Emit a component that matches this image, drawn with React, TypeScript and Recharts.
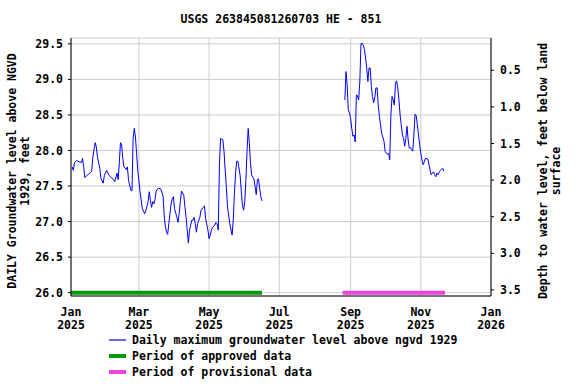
import { ComposedChart, Line, XAxis, YAxis, CartesianGrid, Legend } from 'recharts';

// day of year 2025 (0 = Jan 1) and daily maximum level, ft above NGVD 1929
const DAYS = [
  1, 2, 3, 5, 7, 9, 10, 11, 12, 14, 17, 18, 19, 21, 22, 23, 25, 26, 28, 29,
  31, 33, 35, 37, 38, 40, 41, 42, 43, 44, 45, 46, 48, 49, 50, 52, 53, 54, 55, 56,
  57, 58, 59, 60, 61, 62, 64, 65, 67, 68, 69, 70, 71, 72, 73, 74, 76, 78, 80, 81,
  82, 83, 84, 85, 87, 88, 89, 90, 92, 93, 94, 95, 96, 98, 99, 100, 101, 102, 103, 105,
  106, 107, 108, 109, 110, 112, 113, 115, 116, 117, 119, 120, 121, 122, 123, 125, 126, 127, 128, 129,
  130, 131, 132, 133, 134, 135, 136, 138, 140, 141, 142, 143, 144, 145, 147, 148, 149, 150, 151, 152,
  153, 154, 155, 156, 157, 159, 160, 161, 162, 163, 164, 165, 166,
  200,
  238, 239, 240, 241, 242, 243, 244, 245, 246, 247, 248, 249, 250, 251, 252, 253, 254, 255, 256, 257,
  258, 259, 260, 261, 262, 263, 264, 265, 266, 267, 268, 269, 270, 272, 273, 274, 275, 276, 277, 278,
  279, 280, 281, 282, 283, 284, 285, 286, 287, 288, 289, 290, 291, 292, 293, 294, 295, 296, 297, 298,
  299, 300, 301, 302, 303, 304, 305, 306, 307, 308, 310, 311, 312, 313, 314, 315, 316, 317, 318, 319,
  320, 321, 323, 324,
];
const LEVELS = [
  27.77, 27.72, 27.83, 27.86, 27.84, 27.83, 27.89, 27.77, 27.62, 27.65, 27.69, 27.71, 27.91, 28.11, 28.05, 27.91, 27.75, 27.61, 27.54, 27.65,
  27.72, 27.65, 27.62, 27.59, 27.56, 27.68, 27.59, 27.83, 28.11, 28.08, 27.89, 27.77, 27.73, 27.77, 27.58, 27.44, 27.43, 28.17, 28.31, 28.19,
  27.96, 27.72, 27.58, 27.42, 27.3, 27.18, 27.11, 27.15, 27.28, 27.42, 27.3, 27.2, 27.28, 27.25, 27.31, 27.43, 27.47, 27.46, 27.36, 27.09,
  26.93, 26.85, 26.82, 26.97, 27.25, 27.32, 27.35, 27.18, 27.06, 26.99, 27.11, 27.28, 27.43, 27.37, 27.21, 27.06, 26.88, 26.7, 26.88, 27.02,
  27.02, 27.06, 26.97, 26.85, 26.97, 27.06, 27.16, 27.2, 27.22, 27.04, 26.88, 26.76, 26.81, 26.88, 26.92, 26.95, 26.99, 26.97, 26.88, 27.82,
  28.17, 28.16, 28.15, 27.98, 27.72, 27.49, 27.21, 26.97, 26.81, 27.02, 27.39, 27.68, 27.85, 27.85, 27.65, 27.42, 27.23, 27.16, 27.28, 27.58,
  28.0, 28.31, 28.1, 27.82, 27.65, 27.6, 27.49, 27.38, 27.59, 27.6, 27.46, 27.35, 27.29,
  null,
  28.71, 29.11, 28.92, 28.57, 28.53, 28.45, 28.31, 28.2, 28.22, 28.12, 28.78, 28.77, 28.71, 28.97, 29.5, 29.51, 29.48, 29.42, 29.3, 29.16,
  28.97, 29.16, 29.16, 28.9, 28.76, 28.67, 28.74, 28.88, 28.88, 28.64, 28.48, 28.36, 28.24, 28.13, 27.99, 27.96, 27.95, 27.96, 27.87, 28.5,
  28.76, 28.71, 28.64, 28.95, 28.98, 28.88, 28.71, 28.5, 28.36, 28.22, 28.17, 28.06, 28.17, 28.34, 28.15, 28.03, 28.04, 28.01, 27.99, 28.22,
  28.51, 28.49, 28.36, 28.22, 28.08, 27.96, 27.87, 27.8, 27.84, 27.89, 27.88, 27.81, 27.73, 27.66, 27.68, 27.7, 27.66, 27.63, 27.68, 27.66,
  27.7, 27.72, 27.75, 27.71,
];

const X_TICK_DAYS = [0, 59, 120, 181, 243, 304, 365];
const X_TICK_MONTHS = ['Jan', 'Mar', 'May', 'Jul', 'Sep', 'Nov', 'Jan'];
const X_TICK_YEARS = ['2025', '2025', '2025', '2025', '2025', '2025', '2026'];
const LEVEL_TICKS = [26.0, 26.5, 27.0, 27.5, 28.0, 28.5, 29.0, 29.5];
const DEPTH_TICKS = [0.5, 1.0, 1.5, 2.0, 2.5, 3.0, 3.5];

const APPROVED_DAYS = [0, 166];
const PROVISIONAL_DAYS = [236, 325];
const PERIOD_LEVEL = 26.0;

const TITLE = 'USGS 263845081260703 HE - 851';
const LEFT_TITLE = ['DAILY Groundwater level above NGVD', '1929, feet'];
const RIGHT_TITLE = ['Depth to water level, feet below land', 'surface'];
const LEGEND_LABELS = [
  'Daily maximum groundwater level above ngvd 1929',
  'Period of approved data',
  'Period of provisional data',
];

const FONT = '"DejaVu Sans Mono", monospace';
const FS = 11.5;
const BLUE = '#0000ff';
const GREEN = '#069a06';
const PINK = '#ee44dd';

const levelData = DAYS.map((day, i) => ({ day, level: LEVELS[i] }));
const approvedData = APPROVED_DAYS.map(day => ({ day, level: PERIOD_LEVEL }));
const provisionalData = PROVISIONAL_DAYS.map(day => ({ day, level: PERIOD_LEVEL }));

function MonthTick({ x, y, payload }: any) {
  const i = X_TICK_DAYS.indexOf(payload.value);
  return (
    <text x={x} y={y} textAnchor="middle" fontFamily={FONT} fontSize={FS} fontWeight="bold" fill="#000">
      <tspan x={x} dy={11.5}>{X_TICK_MONTHS[i]}</tspan>
      <tspan x={x} dy={13}>{X_TICK_YEARS[i]}</tspan>
    </text>
  );
}

function AxisTitle({ lines, cx, cy }: { lines: string[]; cx: number; cy: number }) {
  return (
    <text
      x={cx}
      y={cy}
      transform={`rotate(-90 ${cx} ${cy})`}
      textAnchor="middle"
      fontFamily={FONT}
      fontSize={FS}
      fontWeight="bold"
      fill="#000"
    >
      {lines.map((line, i) => (
        <tspan key={i} x={cx} dy={i === 0 ? 0 : 13}>{line}</tspan>
      ))}
    </text>
  );
}

function LegendBox() {
  const rows = [
    { label: LEGEND_LABELS[0], color: BLUE, width: 1.2 },
    { label: LEGEND_LABELS[1], color: GREEN, width: 4 },
    { label: LEGEND_LABELS[2], color: PINK, width: 4 },
  ];
  return (
    <svg width={380} height={48}>
      {rows.map((r, i) => (
        <g key={i}>
          <line x1={4} x2={21} y1={8 + i * 16} y2={8 + i * 16} stroke={r.color} strokeWidth={r.width} />
          <text x={27} y={12 + i * 16} fontFamily={FONT} fontSize={FS} fontWeight="bold" fill="#000">
            {r.label}
          </text>
        </g>
      ))}
    </svg>
  );
}

export default function App() {
  const tickStyle = { fontFamily: FONT, fontSize: FS, fontWeight: 'bold', fill: '#000' };
  return (
    <div style={{ position: 'absolute', left: 0, top: 0, width: 576, height: 384, background: '#fff' }}>
      <div
        style={{
          position: 'absolute', top: 12, left: 71, width: 420, textAlign: 'center',
          fontFamily: FONT, fontSize: FS, fontWeight: 'bold', lineHeight: '14px', zIndex: 2,
        }}
      >
        {TITLE}
      </div>
      <ComposedChart width={576} height={384} margin={{ top: 38, right: 25, bottom: 58, left: 11 }}>
        <CartesianGrid xAxisId="days" yAxisId="level" stroke="#cccccc" strokeWidth={1} />
        <XAxis
          xAxisId="days"
          dataKey="day"
          type="number"
          domain={[0, 365]}
          ticks={X_TICK_DAYS}
          height={30}
          tick={<MonthTick />}
          tickLine={false}
          tickSize={3}
          tickMargin={5}
          axisLine={{ stroke: '#000', strokeWidth: 1 }}
          allowDataOverflow
        />
        <XAxis
          xAxisId="top"
          orientation="top"
          type="number"
          domain={[0, 365]}
          height={0}
          tick={false}
          tickLine={false}
          axisLine={{ stroke: '#000', strokeWidth: 2 }}
        />
        <YAxis
          yAxisId="level"
          type="number"
          width={60}
          domain={[25.953, 29.582]}
          ticks={LEVEL_TICKS}
          tickFormatter={(v: number) => v.toFixed(1)}
          tick={tickStyle}
          tickSize={3}
          tickMargin={5}
          tickLine={{ stroke: '#000' }}
          axisLine={{ stroke: '#000' }}
          allowDataOverflow
          label={<AxisTitle lines={LEFT_TITLE} cx={16} cy={171} />}
        />
        <YAxis
          yAxisId="depth"
          orientation="right"
          type="number"
          width={60}
          domain={[0.059, 3.583]}
          reversed
          ticks={DEPTH_TICKS}
          tickFormatter={(v: number) => v.toFixed(1)}
          tick={tickStyle}
          tickSize={3}
          tickMargin={6}
          tickLine={{ stroke: '#000' }}
          axisLine={{ stroke: '#000' }}
          allowDataOverflow
          label={<AxisTitle lines={RIGHT_TITLE} cx={547} cy={171} />}
        />
        <Line
          xAxisId="days"
          yAxisId="level"
          data={approvedData}
          dataKey="level"
          stroke={GREEN}
          strokeWidth={4}
          dot={false}
          isAnimationActive={false}
        />
        <Line
          xAxisId="days"
          yAxisId="level"
          data={provisionalData}
          dataKey="level"
          stroke={PINK}
          strokeWidth={4}
          dot={false}
          isAnimationActive={false}
        />
        <Line
          xAxisId="days"
          yAxisId="level"
          data={levelData}
          dataKey="level"
          type="linear"
          stroke={BLUE}
          strokeWidth={1}
          dot={false}
          connectNulls={false}
          isAnimationActive={false}
        />
        <Legend
          layout="horizontal"
          verticalAlign="middle"
          align="center"
          wrapperStyle={{ top: 332, left: 105, width: 380, height: 48 }}
          content={<LegendBox />}
        />
      </ComposedChart>
    </div>
  );
}
